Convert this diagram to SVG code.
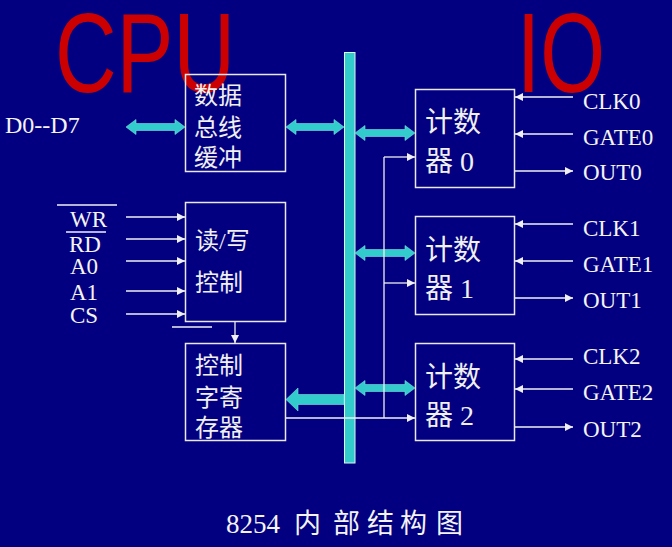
<svg xmlns="http://www.w3.org/2000/svg" width="672" height="547" viewBox="0 0 672 547">
<style>
.box{fill:none;stroke:#E8E8F0;stroke-width:1.5}
.ln{stroke:#F0F0F0;stroke-width:1.3;fill:none}
.ar{stroke:#F0F0F0;stroke-width:1.3;fill:none;marker-end:url(#ah)}
.cy{fill:#33CCCC;stroke:#7FE0E0;stroke-width:0.6}
.lbl{font-family:"Liberation Serif","Noto Sans CJK SC",serif;font-size:23px;fill:#F4F4F4}
.cjk{font-family:"Liberation Serif","Noto Sans CJK SC",serif;font-size:24px;fill:#F0F0F0}
.cnt{font-family:"Liberation Serif","Noto Sans CJK SC",serif;font-size:28px;fill:#F0F0F0}
.big{font-family:"Liberation Sans",Arial,sans-serif;font-size:113px;fill:#CC0000}
</style>
<defs>
<marker id="ah" markerUnits="userSpaceOnUse" markerWidth="9" markerHeight="8" refX="8" refY="4" orient="auto">
<path d="M0,0 L8,4 L0,8 Z" fill="#F0F0F0"/>
</marker>
</defs>
<rect width="672" height="547" fill="#020080"/>

<text class="big" x="55" y="92" textLength="180" lengthAdjust="spacingAndGlyphs">CPU</text>
<text class="big" x="517" y="92" textLength="88" lengthAdjust="spacingAndGlyphs">IO</text>

<g id="bus">
<rect x="344.5" y="52.5" width="10.5" height="410.5" fill="#33CCCC" stroke="#DDF5F5" stroke-width="1"/>
</g>

<g id="buffer">
<rect class="box" x="185.5" y="74.5" width="100" height="97"/>
<text class="cjk" x="194" y="104">数据</text>
<text class="cjk" x="194" y="136">总线</text>
<text class="cjk" x="194" y="166">缓冲</text>
</g>

<g id="rwcontrol">
<rect class="box" x="185.5" y="202.5" width="100" height="119"/>
<text class="cjk" x="195" y="249">读/写</text>
<text class="cjk" x="195" y="291">控制</text>
</g>

<g id="cwreg">
<rect class="box" x="185.5" y="343.5" width="100" height="97"/>
<text class="cjk" x="195" y="374">控制</text>
<text class="cjk" x="195" y="406">字寄</text>
<text class="cjk" x="195" y="436">存器</text>
</g>

<g id="counter0">
<rect class="box" x="415.5" y="89.5" width="99" height="98"/>
<text class="cnt" x="425" y="132">计数</text>
<text class="cnt" x="425" y="171">器 0</text>
</g>
<g id="counter1">
<rect class="box" x="415.5" y="216.5" width="99" height="98"/>
<text class="cnt" x="425" y="260">计数</text>
<text class="cnt" x="425" y="298">器 1</text>
</g>
<g id="counter2">
<rect class="box" x="415.5" y="343.5" width="99" height="97"/>
<text class="cnt" x="425" y="387">计数</text>
<text class="cnt" x="425" y="425">器 2</text>
</g>

<g id="labels">
<text class="lbl" x="5" y="133" style="font-size:24px">D0--D7</text>
<text class="lbl" x="70" y="227">WR</text>
<text class="lbl" x="69" y="252">RD</text>
<text class="lbl" x="70" y="274">A0</text>
<text class="lbl" x="70" y="300">A1</text>
<text class="lbl" x="70" y="323">CS</text>
<line class="ln" x1="57" y1="205" x2="117" y2="205"/>
<line class="ln" x1="66" y1="232" x2="106" y2="232"/>
<line class="ln" x1="172" y1="327" x2="212" y2="327"/>
<text class="lbl" x="583" y="109">CLK0</text>
<text class="lbl" x="583" y="145">GATE0</text>
<text class="lbl" x="583" y="180">OUT0</text>
<text class="lbl" x="583" y="236">CLK1</text>
<text class="lbl" x="583" y="272">GATE1</text>
<text class="lbl" x="583" y="308">OUT1</text>
<text class="lbl" x="583" y="364">CLK2</text>
<text class="lbl" x="583" y="400">GATE2</text>
<text class="lbl" x="583" y="437">OUT2</text>
<text class="lbl" x="226" y="533" style="font-size:27px"><tspan x="226">8254</tspan><tspan x="294">内</tspan><tspan x="333">部</tspan><tspan x="367">结</tspan><tspan x="400">构</tspan><tspan x="436">图</tspan></text>
</g>

<g id="connectors">
<path class="cy" d="M126,127 L136,119.5 L136,123.5 L175,123.5 L175,119.5 L185,127 L175,134.5 L175,130.5 L136,130.5 L136,134.5 Z"/>
<path class="cy" d="M286,127 L296,119.5 L296,123.5 L334,123.5 L334,119.5 L344,127 L334,134.5 L334,130.5 L296,130.5 L296,134.5 Z"/>
<path class="cy" d="M355,133 L365,125.5 L365,129.5 L405,129.5 L405,125.5 L415,133 L405,140.5 L405,136.5 L365,136.5 L365,140.5 Z"/>
<path class="cy" d="M355,253 L365,245.5 L365,249.5 L405,249.5 L405,245.5 L415,253 L405,260.5 L405,256.5 L365,256.5 L365,260.5 Z"/>
<path class="cy" d="M355,388 L365,380.5 L365,384.5 L405,384.5 L405,380.5 L415,388 L405,395.5 L405,391.5 L365,391.5 L365,395.5 Z"/>
<path class="cy" d="M286,399.5 L298,388 L298,394.5 L344,394.5 L344,404.5 L298,404.5 L298,411 Z"/>

<line class="ar" x1="126" y1="217" x2="185" y2="217"/>
<line class="ar" x1="126" y1="239" x2="185" y2="239"/>
<line class="ar" x1="126" y1="261" x2="185" y2="261"/>
<line class="ar" x1="126" y1="291" x2="185" y2="291"/>
<line class="ar" x1="126" y1="314" x2="185" y2="314"/>
<line class="ar" x1="235" y1="322" x2="235" y2="343"/>

<line class="ar" x1="286" y1="418" x2="415" y2="418"/>
<line class="ln" x1="384" y1="157" x2="384" y2="418"/>
<line class="ar" x1="384" y1="157" x2="415" y2="157"/>
<line class="ar" x1="384" y1="283" x2="415" y2="283"/>

<line class="ar" x1="573" y1="97" x2="515" y2="97"/>
<line class="ar" x1="573" y1="134" x2="515" y2="134"/>
<line class="ar" x1="515" y1="171" x2="573" y2="171"/>
<line class="ar" x1="573" y1="224" x2="515" y2="224"/>
<line class="ar" x1="573" y1="261" x2="515" y2="261"/>
<line class="ar" x1="515" y1="298" x2="573" y2="298"/>
<line class="ar" x1="573" y1="359" x2="515" y2="359"/>
<line class="ar" x1="573" y1="389" x2="515" y2="389"/>
<line class="ar" x1="515" y1="427" x2="573" y2="427"/>
</g>
</svg>
